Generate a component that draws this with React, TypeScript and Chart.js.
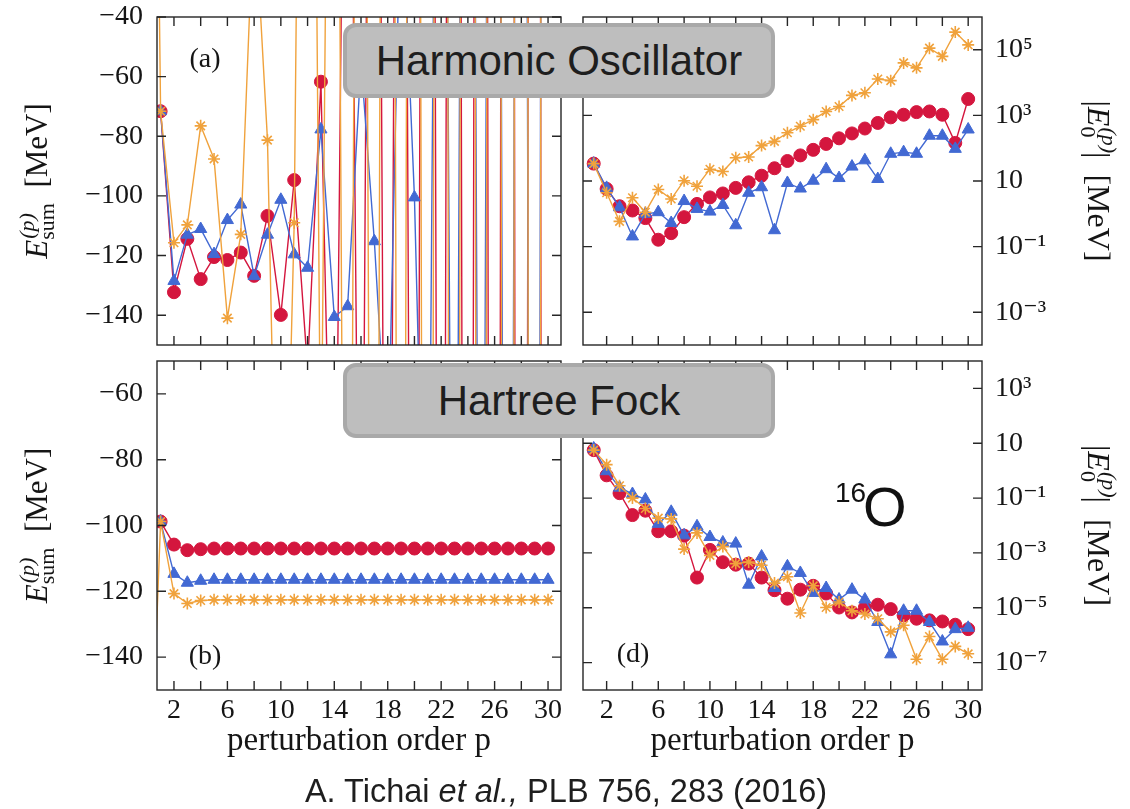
import React, { useEffect, useRef } from 'react';
import { Chart, registerables } from 'chart.js';

Chart.register(...registerables);

const SERIF = "'Liberation Serif', 'Times New Roman', 'DejaVu Serif', serif";
const SANS = "'Liberation Sans', Arial, 'Helvetica Neue', sans-serif";

const RED = '#d4163e';
const BLUE = '#4269d3';
const ORANGE = '#f0a23c';

// perturbation orders
const ORDERS = [1, 2, 3, 4, 5, 6, 7, 8, 9, 10, 11, 12, 13, 14, 15, 16, 17, 18, 19, 20, 21, 22, 23, 24, 25, 26, 27, 28, 29, 30];
const ORDERS_WITH_ZERO = [0, 1, 2, 3, 4, 5, 6, 7, 8, 9, 10, 11, 12, 13, 14, 15, 16, 17, 18, 19, 20, 21, 22, 23, 24, 25, 26, 27, 28, 29, 30];
const X_TICKS = [2, 4, 6, 8, 10, 12, 14, 16, 18, 20, 22, 24, 26, 28, 30];
const X_LABELED = [2, 6, 10, 14, 18, 22, 26, 30];

// (a) Harmonic oscillator, partial sums E_sum^(p) [MeV]
const HO_SUM_RED = [-71.6, -132.3, -114.4, -127.9, -120.5, -121.5, -119.0, -126.8, -106.7, -139.9, -94.7, -158, -61.7, -267, 173, -320, 380, -450, 420, -600, 700, -650, 900, -1000, 1100, -1300, 1400, -1600, 1500, -2000];
const HO_SUM_BLUE = [-71.6, -128.5, -113.0, -111.1, -119.5, -108.1, -102.9, -126.9, -113.0, -101.3, -119.6, -124.1, -77.7, -140.6, -137.0, -55, -115.2, -192, 7, -100.5, -277, 300, -400, 500, -450, 600, -700, 650, -900, 1000];
const HO_SUM_ORANGE = [300, -71.6, -115.7, -109.7, -76.5, -87.6, -141.0, -112.9, 0, -81.3, -290, -109.0, 351, -206, 300, -500, 450, -600, 700, -650, 800, -1000, 1100, -1200, 1500, -1300, 1700, -1900, 2000, -2200, 2500];

// (b) Hartree-Fock, partial sums E_sum^(p) [MeV]
const HF_SUM_RED = [-98.8, -105.8, -107.5, -107.2, -107.0, -107.0, -107.0, -107.0, -107.0, -107.0, -107.0, -107.0, -107.0, -107.0, -107.0, -107.0, -107.0, -107.0, -107.0, -107.0, -107.0, -107.0, -107.0, -107.0, -107.0, -107.0, -107.0, -107.0, -107.0, -107.0];
const HF_SUM_BLUE = [-98.8, -114.7, -117.4, -116.8, -116.5, -116.5, -116.5, -116.5, -116.5, -116.5, -116.5, -116.5, -116.5, -116.5, -116.5, -116.5, -116.5, -116.5, -116.5, -116.5, -116.5, -116.5, -116.5, -116.5, -116.5, -116.5, -116.5, -116.5, -116.5, -116.5];
const HF_SUM_ORANGE = [-205, -98.8, -120.7, -123.7, -122.8, -122.6, -122.6, -122.6, -122.6, -122.6, -122.6, -122.6, -122.6, -122.6, -122.6, -122.6, -122.6, -122.6, -122.6, -122.6, -122.6, -122.6, -122.6, -122.6, -122.6, -122.6, -122.6, -122.6, -122.6, -122.6, -122.6];

// (c) Harmonic oscillator, |E_0^(p)| [MeV]
const HO_E0_RED = [33.9, 5.75, 1.70, 1.26, 0.74, 0.162, 0.257, 0.79, 2.0, 3.16, 4.17, 6.17, 9.12, 14.5, 24.5, 40.7, 60.3, 89.1, 135, 200, 282, 398, 589, 871, 1047, 1259, 1318, 1047, 145, 3162];
const HO_E0_BLUE = [33.9, 6.17, 1.58, 0.204, 1.0, 1.12, 0.525, 2.45, 1.41, 1.17, 1.86, 0.447, 4.37, 6.46, 0.316, 8.71, 5.89, 10.2, 22.9, 12.3, 27.5, 42.7, 11.5, 67.6, 75.9, 67.6, 240, 240, 95.5, 372];
const HO_E0_ORANGE = [33.9, 4.37, 0.589, 3.09, 1.12, 5.50, 2.82, 10.2, 6.92, 22.9, 19.5, 51.3, 53.7, 120, 162, 295, 468, 741, 1318, 1862, 4074, 4898, 12882, 11482, 39811, 28184, 112202, 63096, 346737, 141254];

// (d) Hartree-Fock, |E_0^(p)| [MeV]
const HF_E0_RED = [5.62, 0.676, 0.151, 0.024, 0.0347, 0.00617, 0.00617, 0.00427, 1.26e-4, 1.29e-3, 4.57e-4, 3.72e-4, 4.07e-4, 1.26e-4, 4.37e-5, 2.14e-5, 4.57e-5, 6.31e-5, 3.31e-5, 1.02e-5, 6.76e-6, 1.02e-5, 1.29e-5, 8.91e-6, 5.25e-6, 3.98e-6, 3.47e-6, 3.16e-6, 2.40e-6, 1.66e-6];
const HF_E0_BLUE = [6.46, 0.955, 0.240, 0.141, 0.0891, 0.0115, 0.0316, 0.00437, 0.00933, 0.0038, 0.0024, 0.00219, 6.92e-5, 7.41e-4, 5.25e-5, 3.24e-4, 1.86e-4, 3.47e-5, 5.25e-5, 2.0e-5, 4.57e-5, 2.0e-5, 3.02e-6, 2.0e-7, 7.76e-6, 7.76e-6, 3.02e-6, 5.89e-7, 1.66e-6, 1.86e-6];
const HF_E0_ORANGE = [5.62, 1.66, 0.282, 0.1, 0.0417, 0.0186, 0.0174, 0.00138, 0.00537, 8.13e-4, 0.0017, 4.07e-4, 4.68e-4, 3.55e-4, 7.94e-5, 1.35e-4, 6.46e-6, 6.31e-5, 1.02e-5, 1.62e-5, 7.76e-6, 5.89e-6, 3.98e-6, 1.32e-6, 2.29e-6, 1.32e-7, 8.91e-7, 1.32e-7, 3.89e-7, 2.09e-7];

// y ticks
const Y_TICKS_A = [-140, -120, -100, -80, -60, -40];
const Y_TICKS_B = [-140, -120, -100, -80, -60];
const Y_TICKS_C = [1e-3, 1e-1, 10, 1e3, 1e5];
const Y_TICKS_D = [1e-7, 1e-5, 1e-3, 1e-1, 10, 1e3];

const SUP: Record<string, string> = { '-': '\u207B', '0': '\u2070', '1': '\u00B9', '2': '\u00B2', '3': '\u00B3', '4': '\u2074', '5': '\u2075', '6': '\u2076', '7': '\u2077', '8': '\u2078', '9': '\u2079' };

function logLabel(v: number): string {
  const e = Math.round(Math.log10(v));
  if (e === 1) return '10';
  return '10' + String(e).split('').map((c) => SUP[c]).join('');
}
function minusLabel(v: number): string {
  return String(v).replace('-', '\u2212');
}

function series(xs: number[], ys: number[], color: string, style: string, radius: number) {
  return {
    data: xs.map((x, i) => ({ x, y: ys[i] })),
    borderColor: color,
    backgroundColor: color,
    pointBackgroundColor: color,
    pointBorderColor: color,
    pointStyle: style,
    pointRadius: radius,
    pointHoverRadius: radius,
    pointBorderWidth: style === 'star' ? 1.6 : 1,
    borderWidth: 1.4,
    tension: 0,
    fill: false,
  };
}

type Piece = { t?: string; f?: string; sup?: string; sub?: string; supF?: string; subF?: string; supDy?: number; subDy?: number };

function drawTitle(ctx: CanvasRenderingContext2D, side: 'left' | 'right', bx: number, cy: number, pieces: Piece[]) {
  ctx.save();
  ctx.translate(bx, cy);
  ctx.rotate(side === 'left' ? -Math.PI / 2 : Math.PI / 2);
  ctx.textBaseline = 'alphabetic';
  ctx.textAlign = 'left';
  ctx.fillStyle = '#151515';
  const widths = pieces.map((p) => {
    if (p.t !== undefined) {
      ctx.font = p.f as string;
      return ctx.measureText(p.t).width;
    }
    ctx.font = p.supF as string;
    const a = ctx.measureText(p.sup as string).width;
    ctx.font = p.subF as string;
    const b = ctx.measureText(p.sub as string).width;
    return Math.max(a, b);
  });
  const total = widths.reduce((s, w) => s + w, 0);
  let x = -total / 2;
  pieces.forEach((p, i) => {
    if (p.t !== undefined) {
      ctx.font = p.f as string;
      ctx.fillText(p.t, x, 0);
    } else {
      ctx.font = p.supF as string;
      ctx.fillText(p.sup as string, x + 1, p.supDy as number);
      ctx.font = p.subF as string;
      ctx.fillText(p.sub as string, x, p.subDy as number);
    }
    x += widths[i];
  });
  ctx.restore();
}

const LEFT_TITLE: Piece[] = [
  { t: 'E', f: `italic 31px ${SERIF}` },
  { sup: '(p)', sub: 'sum', supF: `italic 22px ${SERIF}`, subF: `22px ${SERIF}`, supDy: -13, subDy: 7 },
  { t: '  [MeV]', f: `31px ${SERIF}` },
];
const RIGHT_TITLE: Piece[] = [
  { t: '|', f: `32px ${SERIF}` },
  { t: 'E', f: `italic 32px ${SERIF}` },
  { sup: '(p)', sub: '0', supF: `italic 22px ${SERIF}`, subF: `22px ${SERIF}`, supDy: -14, subDy: 7 },
  { t: '|  [MeV]', f: `32px ${SERIF}` },
];

type Decor = {
  yTicks: number[];
  letter?: string;
  letterX?: number;
  letterTop?: number;
  letterBottom?: number;
  side: 'left' | 'right';
  titleX: number;
};

function makeDecor(d: Decor) {
  return {
    id: 'decor',
    afterDraw(chart: any) {
      const { ctx, chartArea: ca, scales } = chart;
      const xs = scales.x;
      const ys = scales.y;
      ctx.save();
      ctx.strokeStyle = '#262626';
      ctx.lineWidth = 1.4;
      ctx.strokeRect(ca.left, ca.top, ca.right - ca.left, ca.bottom - ca.top);
      ctx.beginPath();
      const L = 9;
      for (const v of X_TICKS) {
        const px = xs.getPixelForValue(v);
        ctx.moveTo(px, ca.bottom);
        ctx.lineTo(px, ca.bottom - L);
        ctx.moveTo(px, ca.top);
        ctx.lineTo(px, ca.top + L);
      }
      for (const v of d.yTicks) {
        const py = ys.getPixelForValue(v);
        ctx.moveTo(ca.left, py);
        ctx.lineTo(ca.left + L, py);
        ctx.moveTo(ca.right, py);
        ctx.lineTo(ca.right - L, py);
      }
      ctx.stroke();
      if (d.letter) {
        ctx.font = `28px ${SERIF}`;
        ctx.fillStyle = '#151515';
        ctx.textAlign = 'center';
        ctx.textBaseline = 'middle';
        const y = d.letterTop !== undefined ? ca.top + d.letterTop : ca.bottom - (d.letterBottom as number);
        ctx.fillText(d.letter, ca.left + (d.letterX as number), y);
      }
      ctx.restore();
      drawTitle(ctx, d.side, d.titleX, (ca.top + ca.bottom) / 2, d.side === 'left' ? LEFT_TITLE : RIGHT_TITLE);
    },
  };
}

type PanelSpec = {
  datasets: any[];
  xMin: number;
  xMax: number;
  showX: boolean;
  xHeight: number;
  yType: 'linear' | 'logarithmic';
  yMin: number;
  yMax: number;
  yTicks: number[];
  yPos: 'left' | 'right';
  yWidth: number;
  yPad: number;
  padding: { top: number; left: number; right: number; bottom: number };
  decor: Decor;
};

function zeroPadding(s: any) {
  s.paddingTop = 0;
  s.paddingBottom = 0;
  s.paddingLeft = 0;
  s.paddingRight = 0;
}

function panelConfig(p: PanelSpec): any {
  return {
    type: 'line',
    data: { datasets: p.datasets },
    options: {
      responsive: false,
      animation: false,
      events: [],
      layout: { padding: p.padding },
      plugins: { legend: { display: false }, tooltip: { enabled: false } },
      scales: {
        x: {
          type: 'linear',
          min: p.xMin,
          max: p.xMax,
          display: p.showX,
          grid: { display: false, drawTicks: false },
          border: { display: false },
          ticks: {
            autoSkip: false,
            maxRotation: 0,
            padding: 4,
            color: '#151515',
            font: { family: SERIF, size: 28 },
            callback: (v: number) => (X_LABELED.includes(v) ? String(v) : ''),
          },
          afterBuildTicks: (s: any) => {
            s.ticks = X_TICKS.map((v) => ({ value: v }));
          },
          afterFit: (s: any) => {
            s.height = p.xHeight;
            zeroPadding(s);
          },
          title: {
            display: p.showX,
            text: 'perturbation order p',
            color: '#151515',
            font: { family: SERIF, size: 33 },
            padding: { top: 0, bottom: 0 },
          },
        },
        y: {
          type: p.yType,
          position: p.yPos,
          min: p.yMin,
          max: p.yMax,
          grid: { display: false, drawTicks: false },
          border: { display: false },
          ticks: {
            autoSkip: false,
            padding: p.yPad,
            color: '#151515',
            font: { family: SERIF, size: 28 },
            callback: (v: number) => (p.yType === 'logarithmic' ? logLabel(v) : minusLabel(v)),
          },
          afterBuildTicks: (s: any) => {
            s.ticks = p.yTicks.map((v) => ({ value: v }));
          },
          afterFit: (s: any) => {
            s.width = p.yWidth;
            zeroPadding(s);
          },
        },
      },
    },
    plugins: [makeDecor(p.decor)],
  };
}

const PANEL_A: PanelSpec = {
  datasets: [
    series(ORDERS_WITH_ZERO, HO_SUM_ORANGE, ORANGE, 'star', 6),
    series(ORDERS, HO_SUM_BLUE, BLUE, 'triangle', 7),
    series(ORDERS, HO_SUM_RED, RED, 'circle', 6.5),
  ],
  xMin: 0.73, xMax: 30.97, showX: false, xHeight: 0,
  yType: 'linear', yMin: -150, yMax: -40, yTicks: Y_TICKS_A, yPos: 'left', yWidth: 157, yPad: 14,
  padding: { top: 17, left: 0, right: 14, bottom: 0 },
  decor: { yTicks: Y_TICKS_A, letter: '(a)', letterX: 48, letterTop: 43, side: 'left', titleX: 47 },
};

const PANEL_B: PanelSpec = {
  datasets: [
    series(ORDERS_WITH_ZERO, HF_SUM_ORANGE, ORANGE, 'star', 6),
    series(ORDERS, HF_SUM_BLUE, BLUE, 'triangle', 7),
    series(ORDERS, HF_SUM_RED, RED, 'circle', 6.5),
  ],
  xMin: 0.73, xMax: 30.97, showX: true, xHeight: 71,
  yType: 'linear', yMin: -150, yMax: -50, yTicks: Y_TICKS_B, yPos: 'left', yWidth: 157, yPad: 14,
  padding: { top: 0, left: 0, right: 14, bottom: 48 },
  decor: { yTicks: Y_TICKS_B, letter: '(b)', letterX: 48, letterBottom: 33, side: 'left', titleX: 47 },
};

const PANEL_C: PanelSpec = {
  datasets: [
    series(ORDERS, HO_E0_ORANGE, ORANGE, 'star', 6),
    series(ORDERS, HO_E0_BLUE, BLUE, 'triangle', 7),
    series(ORDERS, HO_E0_RED, RED, 'circle', 6.5),
  ],
  xMin: 0.17, xMax: 31.07, showX: false, xHeight: 0,
  yType: 'logarithmic', yMin: 1e-4, yMax: 1e6, yTicks: Y_TICKS_C, yPos: 'right', yWidth: 148, yPad: 13,
  padding: { top: 17, left: 1, right: 0, bottom: 0 },
  decor: { yTicks: Y_TICKS_C, side: 'right', titleX: 513 },
};

const PANEL_D: PanelSpec = {
  datasets: [
    series(ORDERS, HF_E0_ORANGE, ORANGE, 'star', 6),
    series(ORDERS, HF_E0_BLUE, BLUE, 'triangle', 7),
    series(ORDERS, HF_E0_RED, RED, 'circle', 6.5),
  ],
  xMin: 0.17, xMax: 31.07, showX: true, xHeight: 71,
  yType: 'logarithmic', yMin: 1e-8, yMax: 1e4, yTicks: Y_TICKS_D, yPos: 'right', yWidth: 148, yPad: 13,
  padding: { top: 0, left: 1, right: 0, bottom: 48 },
  decor: { yTicks: Y_TICKS_D, letter: '(d)', letterX: 50, letterBottom: 35, side: 'right', titleX: 513 },
};

const LAYOUT = [
  { spec: PANEL_A, left: 0, top: 0, width: 575, height: 353 },
  { spec: PANEL_B, left: 0, top: 353, width: 575, height: 456 },
  { spec: PANEL_C, left: 575, top: 0, width: 555, height: 353 },
  { spec: PANEL_D, left: 575, top: 353, width: 555, height: 456 },
];

const boxStyle = (top: number): React.CSSProperties => ({
  position: 'absolute',
  left: 343,
  top,
  width: 432,
  height: 75,
  boxSizing: 'border-box',
  background: '#bebebe',
  border: '4px solid #a9a9a9',
  borderRadius: 13,
  display: 'flex',
  alignItems: 'center',
  justifyContent: 'center',
  fontFamily: SANS,
  fontSize: 42,
  color: '#1e1e1e',
  lineHeight: 1,
  whiteSpace: 'nowrap',
});

export default function App() {
  const refs = [useRef<HTMLCanvasElement>(null), useRef<HTMLCanvasElement>(null), useRef<HTMLCanvasElement>(null), useRef<HTMLCanvasElement>(null)];

  useEffect(() => {
    const charts: Chart[] = [];
    LAYOUT.forEach((l, i) => {
      const c = refs[i].current;
      if (c) charts.push(new Chart(c, panelConfig(l.spec)));
    });
    return () => charts.forEach((c) => c.destroy());
  }, []);

  return (
    <div style={{ position: 'fixed', left: 0, top: 0, width: 1130, height: 809, background: '#ffffff', overflow: 'hidden' }}>
      {LAYOUT.map((l, i) => (
        <canvas
          key={i}
          ref={refs[i]}
          width={l.width}
          height={l.height}
          style={{ position: 'absolute', left: l.left, top: l.top, width: l.width, height: l.height }}
        />
      ))}
      <div style={boxStyle(23)}>Harmonic Oscillator</div>
      <div style={boxStyle(363)}>Hartree Fock</div>
      <span style={{ position: 'absolute', left: 835, top: 479, fontFamily: SANS, fontSize: 28, lineHeight: 1, color: '#111' }}>16</span>
      <span style={{ position: 'absolute', left: 863, top: 479, fontFamily: SANS, fontSize: 56, lineHeight: 1, color: '#111' }}>O</span>
      <div style={{ position: 'absolute', left: 0, width: 1132, top: 775, textAlign: 'center', fontFamily: SANS, fontSize: 32.5, lineHeight: 1, color: '#1e1e1e', whiteSpace: 'nowrap' }}>
        A. Tichai <i>et al.,</i> PLB 756, 283 (2016)
      </div>
    </div>
  );
}
